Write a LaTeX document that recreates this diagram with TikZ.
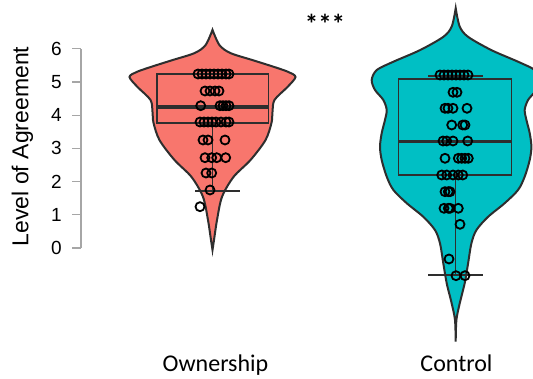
\documentclass[tikz,border=0pt]{standalone}
\usepackage{fontspec}
\setmainfont{Liberation Sans}
\newfontfamily\catfont{Carlito}

\definecolor{owncol}{HTML}{F8766D}
\definecolor{ctrlcol}{HTML}{00BFC4}
\definecolor{edgecol}{HTML}{2E2E2E}
\definecolor{axiscol}{HTML}{A6A6A6}

\tikzset{
  violin/.style = {draw=edgecol, line width=2pt},
  boxline/.style = {draw=edgecol, line width=1.8pt},
  medianline/.style = {draw=edgecol, line width=3.5pt},
  obs/.style = {draw=black, line width=1.8pt},
}

\begin{document}
\begin{tikzpicture}[x=1pt, y=33.2pt]

    \useasboundingbox (0,-3.916) rectangle (533,7.470);
    \clip (0,-3.916) rectangle (533,7.470);

    % violins
    \filldraw[violin, fill=owncol]
      plot[smooth] coordinates {(212.5,6.57) (205.5,6.11) (194.5,5.87) (172.5,5.66) (150.5,5.45) (136.5,5.30) (129.5,5.15) (137.5,4.85) (150.5,4.46) (152.5,4.10) (153.5,3.77) (159.5,3.25) (174.5,2.65) (191.5,2.14) (203,1.54) (208,0.84) (211,0.24) (212.5,-0.06)}
      -- plot[smooth] coordinates {(212.5,-0.06) (214,0.24) (217,0.84) (222,1.54) (233.5,2.14) (250.5,2.65) (265.5,3.25) (271.5,3.77) (272.5,4.10) (274.5,4.46) (287.5,4.85) (295.5,5.15) (288.5,5.30) (274.5,5.45) (252.5,5.66) (230.5,5.87) (219.5,6.11) (212.5,6.57)}
      -- cycle;

    \filldraw[violin, fill=ctrlcol]
      plot[smooth] coordinates {(455.7,7.22) (451.7,6.67) (443.3,6.36) (420,5.96) (393.3,5.61) (376.7,5.36) (371.7,5.06) (375,4.76) (383.3,4.46) (386.7,4.16) (385,3.86) (381.7,3.46) (380,3.05) (381.7,2.65) (386.7,2.15) (393.3,1.75) (406.7,1.35) (423.3,0.94) (435,0.54) (440,0.14) (443.3,-0.46) (446.7,-1.06) (451.7,-1.67) (455,-2.17) (455.7,-2.82)}
      -- plot[smooth] coordinates {(455.7,-2.82) (456.4,-2.17) (459.7,-1.67) (464.7,-1.06) (468.1,-0.46) (471.4,0.14) (476.4,0.54) (488.1,0.94) (504.7,1.35) (518.1,1.75) (524.7,2.15) (529.7,2.65) (531.4,3.05) (529.7,3.46) (526.4,3.86) (524.7,4.16) (528.1,4.46) (536.4,4.76) (539.7,5.06) (534.7,5.36) (518.1,5.61) (491.4,5.96) (468.1,6.36) (459.7,6.67) (455.7,7.22)}
      -- cycle;

    % boxes and whiskers
    \draw[boxline] (157,3.765) rectangle (268.5,5.241);
    \draw[medianline] (157,4.247) -- (268.5,4.247);
    \draw[boxline] (212.5,3.765) -- (212.5,1.717);
    \draw[boxline] (195,1.717) -- (240,1.717);

    \draw[boxline] (398.5,2.199) rectangle (511.5,5.09);
    \draw[medianline] (398.5,3.202) -- (511.5,3.202);
    \draw[boxline] (455.5,5.09) -- (455.5,5.181);
    \draw[boxline] (428,5.181) -- (483,5.181);
    \draw[boxline] (455.5,2.199) -- (455.5,-0.813);
    \draw[boxline] (428,-0.813) -- (483,-0.813);

    % data points
    \foreach \px/\py in {198/5.241, 202/5.241, 206/5.241, 210/5.241, 214/5.241, 218/5.241, 222/5.241, 226/5.241, 229/5.241,
                         205/4.729, 210/4.729, 215/4.729, 219/4.729,
                         200.7/4.286, 220/4.286, 223/4.286, 226/4.286, 229/4.286,
                         200/3.795, 204/3.795, 208/3.795, 212/3.795, 216/3.795, 221/3.795, 226/3.795, 229/3.795,
                         203/3.253, 208/3.253, 225/3.253,
                         205/2.720, 211.7/2.720, 216.7/2.720, 225.7/2.720,
                         206/2.259, 211.7/2.259,
                         210/1.747,
                         200/1.244}
        \draw[obs] (\px,\py) circle (4.5pt);

    \foreach \px/\py in {440/5.211, 444/5.211, 448/5.211, 452/5.211, 456/5.211, 460/5.211, 464/5.211, 468/5.211,
                         453/4.690, 457/4.690,
                         445/4.208, 448/4.208, 453/4.208, 467/4.208,
                         451.7/3.705, 462.7/3.705, 465/3.705,
                         443/3.223, 446.7/3.223, 453/3.223, 467.7/3.223,
                         445/2.702, 458.3/2.702, 461.7/2.702, 465/2.702, 468.3/2.702,
                         441.7/2.199, 446.7/2.199, 453/2.199, 458.3/2.199, 462.7/2.199,
                         445/1.696, 448.3/1.696, 450/1.696,
                         444/1.196, 448.3/1.196, 450/1.196, 458.3/1.196,
                         460/0.714,
                         449/-0.331,
                         456/-0.834, 465/-0.834}
        \draw[obs] (\px,\py) circle (4.5pt);

    % axis
    \draw[axiscol, line width=1.2pt] (81,0) -- (81,6);
    \foreach \v in {0,...,6} {
        \draw[axiscol, line width=1.2pt] (72,\v) -- (81,\v);
        \node[anchor=east, inner sep=0pt, font=\fontsize{19}{19}\selectfont] (tick\v) at (62,\v) {\v};
    }
    \node[rotate=90, inner sep=0pt, font=\fontsize{23}{23}\selectfont] (ylabel) at (22.5,3.06) {Level of Agreement};

    \node[anchor=base, inner sep=0pt, font=\catfont\fontsize{24}{24}\selectfont] (own) at (215.5,-3.705) {Ownership};
    \node[anchor=base, inner sep=0pt, font=\catfont\fontsize{24}{24}\selectfont] (ctrl) at (456.5,-3.705) {Control};
    \node[anchor=base, inner sep=0pt, font=\catfont\bfseries\fontsize{27}{27}\selectfont] (signif) at (325,6.45) {***};

\end{tikzpicture}
\end{document}
